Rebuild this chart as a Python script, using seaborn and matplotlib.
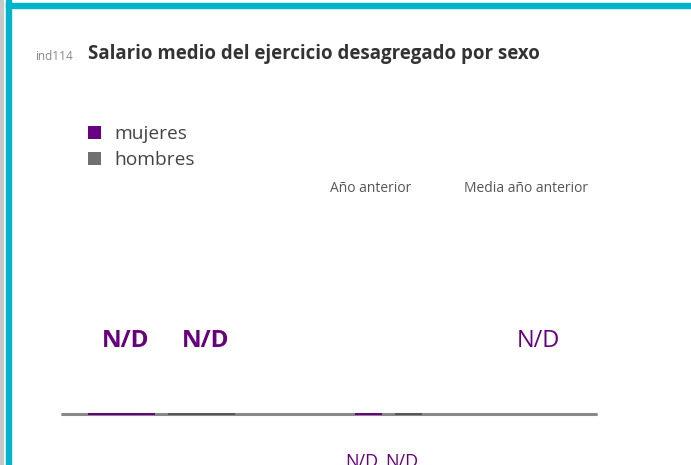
import pandas as pd
import matplotlib.pyplot as plt
import seaborn as sns
from matplotlib.patches import Patch, Rectangle

# Data (values are not available: shown as N/D, drawn as zero-height bars)
sexos = ['mujeres', 'hombres']
valores_actual = [0, 0]
valores_anterior = [0, 0]
etiquetas_actual = ['N/D', 'N/D']
etiquetas_anterior = ['N/D', 'N/D']
etiqueta_media = 'N/D'
colores = {'mujeres': '#660080', 'hombres': '#555555'}
colores_leyenda = ['#660080', '#707070']

titulo = 'Salario medio del ejercicio desagregado por sexo'
codigo = 'ind114'
cabeceras = ['Año anterior', 'Media año anterior']

sns.set_theme(style='white')
plt.rcParams['font.family'] = ['Open Sans', 'DejaVu Sans']

W, H = 691, 465
fig = plt.figure(figsize=(W / 100, H / 100), dpi=100)


def fx(x):
    return x / W


def fy(y):
    return 1 - y / H


# Frame decoration
fig.patches.append(Rectangle((0, 0), fx(3.3), 1, transform=fig.transFigure, color='#C8C8C8'))
fig.patches.append(Rectangle((fx(5.7), 0), fx(5.3), 1, transform=fig.transFigure, color='#00B5CB'))
fig.patches.append(Rectangle((fx(5.7), fy(8.3)), 1, fy(3.3) - fy(8.3), transform=fig.transFigure, color='#00B5CB'))

# Title
fig.text(fx(35), fy(56), codigo, fontsize=8.5, color='#888888', va='center')
fig.text(fx(88), fy(54), titulo, fontsize=13.4, fontweight='bold', color='#333333', va='center')

# Legend
handles = [Patch(facecolor=c, edgecolor='none') for c in colores_leyenda]
fig.legend(handles, sexos, loc='upper left', bbox_to_anchor=(fx(88), fy(125)), frameon=False,
           fontsize=13.8, handlelength=0.68, handleheight=0.68, handletextpad=0.72,
           labelspacing=0.42, borderpad=0, borderaxespad=0, labelcolor='#444444')

# Column headers
fig.text(fx(370.5), fy(188.5), cabeceras[0], fontsize=10, color='#555555', ha='center', va='center')
fig.text(fx(525.5), fy(188.5), cabeceras[1], fontsize=10, color='#555555', ha='center', va='center')

base_y = 413.5
top_y = 200

# Baseline axis
ax_base = fig.add_axes([fx(62), fy(base_y), fx(596 - 62), (base_y - top_y) / H])
ax_base.set_xlim(0, 1)
ax_base.set_ylim(0, 1)
ax_base.axhline(0, color='#888888', lw=2.2, clip_on=False)
ax_base.axis('off')
ax_base.text((538.5 - 62) / (596 - 62), (base_y - 340.5) / (base_y - top_y), etiqueta_media,
             fontsize=17, color='#660080', ha='center', va='center')


def dibujar_grupo(ax, valores, etiquetas, gap, arriba):
    df = pd.DataFrame({'grupo': ['g'] * len(sexos), 'sexo': sexos, 'valor': valores})
    sns.barplot(data=df, x='grupo', y='valor', hue='sexo', palette=colores, width=1,
                gap=gap, saturation=1, legend=False, ax=ax)
    for p in ax.patches:
        p.set_edgecolor(p.get_facecolor())
        p.set_linewidth(1.4)
        p.set_clip_on(False)
    ax.set_xlim(-0.5, 0.5)
    ax.set_ylim(0, 1)
    ax.axis('off')
    for p, et in zip(ax.patches, etiquetas):
        xc = p.get_x() + p.get_width() / 2
        if arriba:
            ax.annotate(et, (xc, 0), xytext=(3.2, 52.2), textcoords='offset points',
                        ha='center', va='center', fontsize=17.5, fontweight='bold',
                        color='#660080', annotation_clip=False)
        else:
            ax.annotate(et, (xc, 0), xytext=(-4.5, -35), textcoords='offset points',
                        ha='center', va='center', fontsize=13,
                        color='#660080', annotation_clip=False)


ax1 = fig.add_axes([fx(81.5), fy(base_y), fx(160), (base_y - top_y) / H])
dibujar_grupo(ax1, valores_actual, etiquetas_actual, 0.1625, True)

ax2 = fig.add_axes([fx(348.5), fy(base_y), fx(80), (base_y - top_y) / H])
dibujar_grupo(ax2, valores_anterior, etiquetas_anterior, 0.325, False)

fig.savefig('out.png', dpi=100)
